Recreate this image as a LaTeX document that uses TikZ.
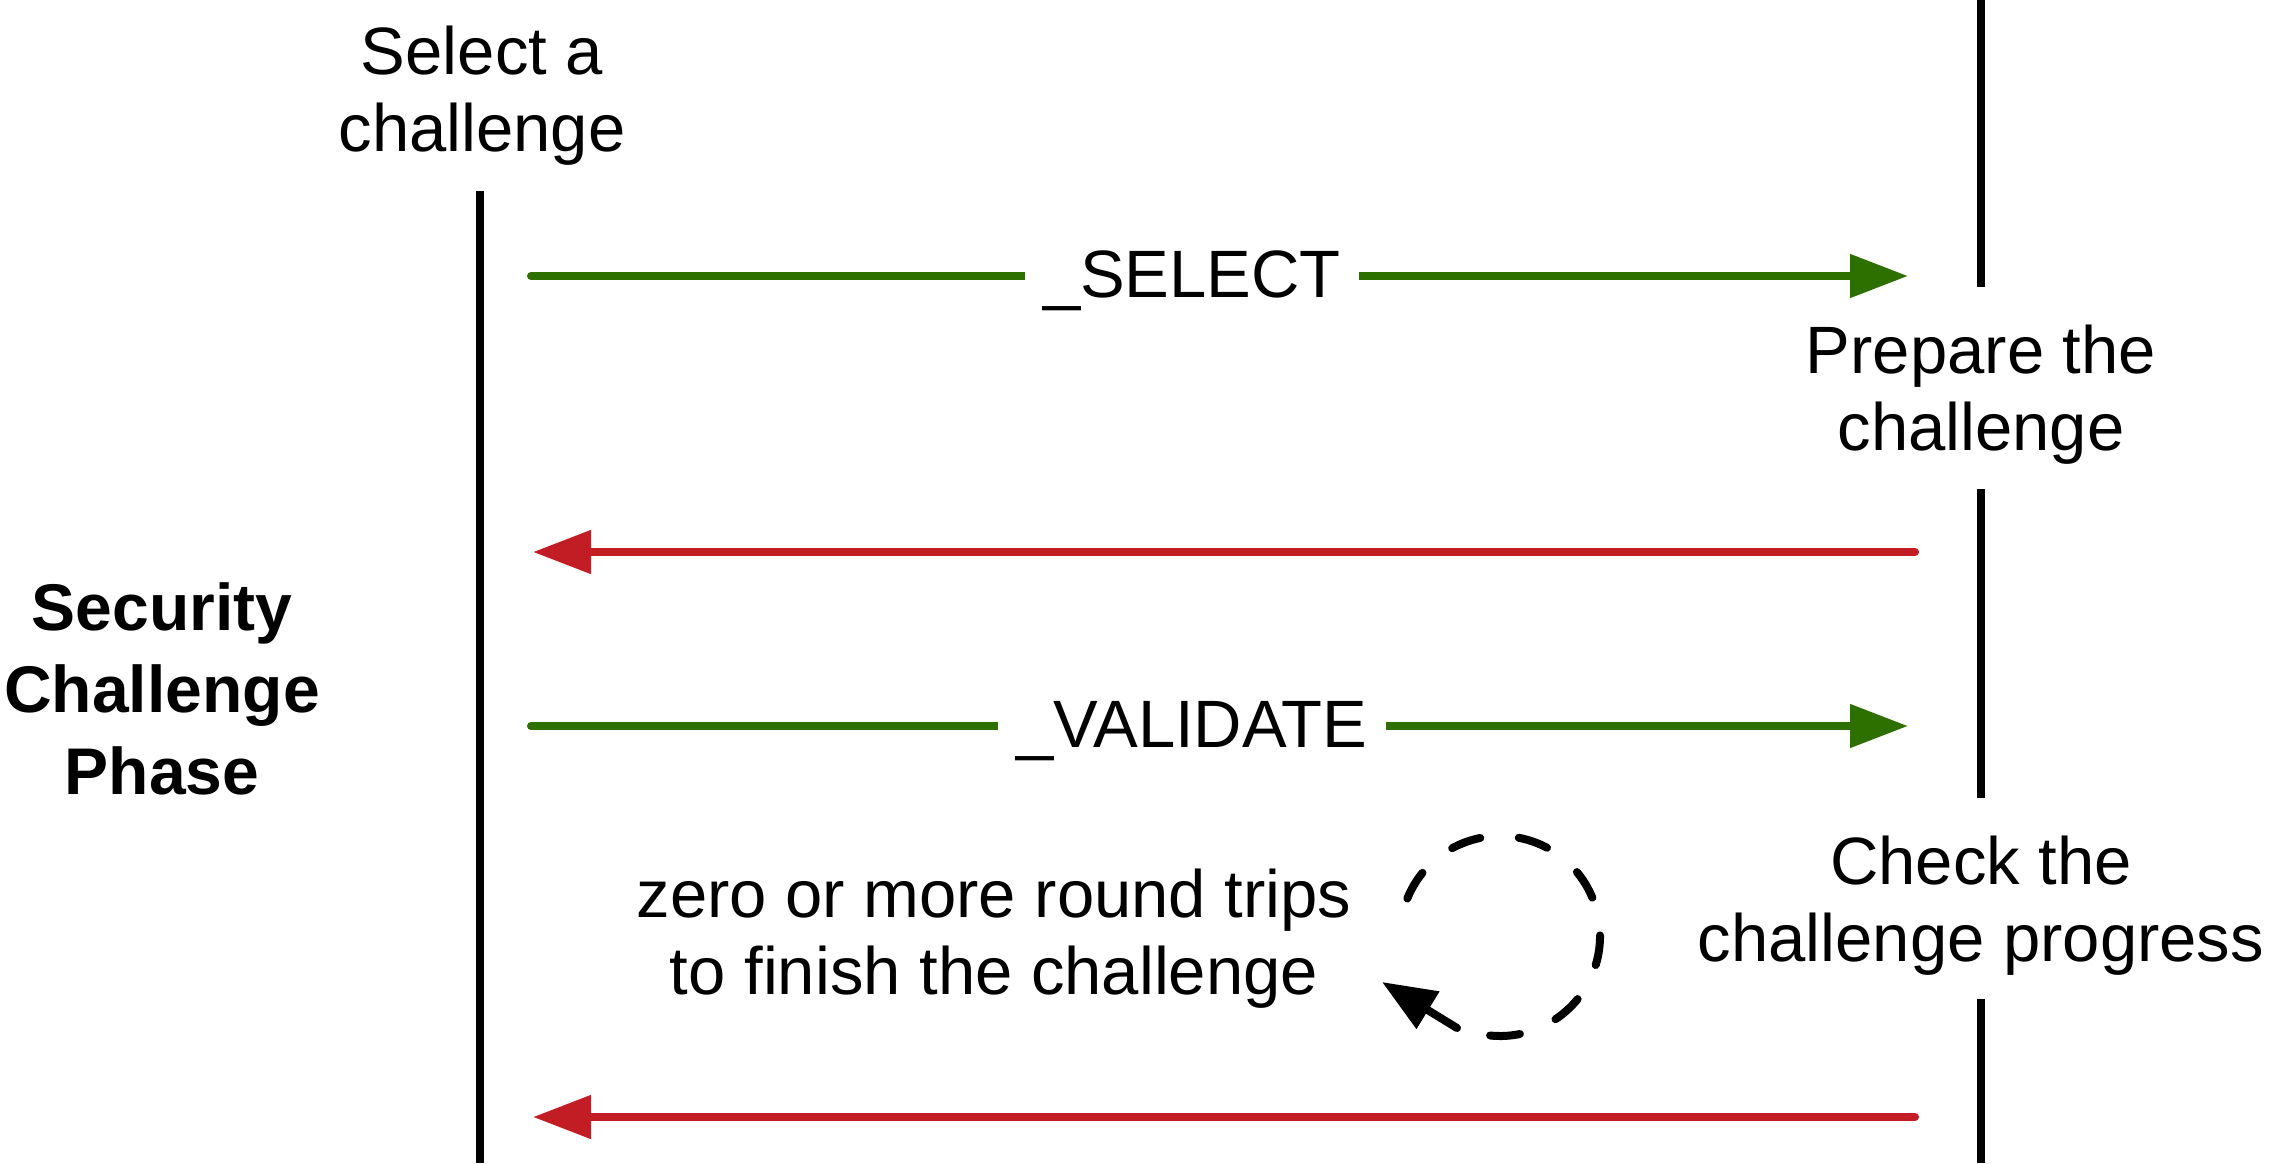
\documentclass[tikz,border=0pt]{standalone}
\usepackage{fontspec}
\setmainfont{Liberation Sans}
\usetikzlibrary{arrows.meta}
\definecolor{reqgreen}{RGB}{45,112,0}
\definecolor{respred}{RGB}{194,28,36}

\begin{document}
\begin{tikzpicture}[
  x=0.5pt, y=-0.5pt,
  lifeline/.style={line width=4pt, color=black},
  request/.style={line width=4pt, line cap=round, color=reqgreen, -{Triangle[length=29pt, width=21pt]}},
  response/.style={line width=4pt, line cap=round, color=respred, -{Triangle[length=29pt, width=21pt]}},
  msg/.style={fill=white, text=black, inner xsep=9pt, inner ysep=2pt, yshift=-2.5pt, font=\fontsize{33.5}{38.5}\selectfont},
  note/.style={align=center, font=\fontsize{33.5}{38.5}\selectfont},
  phase/.style={align=center, font=\fontsize{33}{41}\selectfont\bfseries},
  roundtrip/.style={line width=4pt, line cap=round, dash pattern=on 15pt off 19.4pt},
  roundtrip tip/.style={line width=4pt, line cap=round, -{Triangle[length=27pt, width=21pt]}}
]
\useasboundingbox (0,0) rectangle (2269,1163);

% labels
\node[note] (select) at (482,96) {Select a\\challenge};
\node[note] (prepare) at (1981,395) {Prepare the\\challenge};
\node[note] (check) at (1981,906) {Check the\\challenge progress};
\node[phase] (phase) at (162,689) {Security\\Challenge\\Phase};
\node[note] (trips) at (994,939) {zero or more round trips\\to finish the challenge};

% lifelines
\coordinate (client top) at (480,191);
\coordinate (client bottom) at (480,1163);
\draw[lifeline] (client top) -- (client bottom);
\coordinate (server a) at (1981,0);
\coordinate (server b) at (1981,287);
\coordinate (server c) at (1981,489);
\coordinate (server d) at (1981,798);
\coordinate (server e) at (1981,999);
\coordinate (server f) at (1981,1163);
\draw[lifeline] (server a) -- (server b);
\draw[lifeline] (server c) -- (server d);
\draw[lifeline] (server e) -- (server f);

% messages
\coordinate (select from) at (531,276);
\coordinate (select to) at (1908,276);
\coordinate (reply from) at (1915,552);
\coordinate (reply to) at (533,552);
\coordinate (validate from) at (531,726);
\coordinate (validate to) at (1908,726);
\coordinate (result from) at (1915,1117);
\coordinate (result to) at (533,1117);

\draw[request] (select from) -- node[msg, pos=0.48] (select msg) {\_SELECT} (select to);
\draw[response] (reply from) -- (reply to);
\draw[request] (validate from) -- node[msg, pos=0.48] (validate msg) {\_VALIDATE} (validate to);
\draw[response] (result from) -- (result to);

% round trip loop
\coordinate (loop centre) at (1500,936);
\coordinate (loop stub) at (1457,1028);
\coordinate (loop tip) at (1382,982);
\draw[roundtrip] ([shift={(-158:100)}]loop centre) arc[start angle=-158, end angle=96, radius=100];
\draw[roundtrip tip] (loop stub) -- (loop tip);

\end{tikzpicture}
\end{document}
